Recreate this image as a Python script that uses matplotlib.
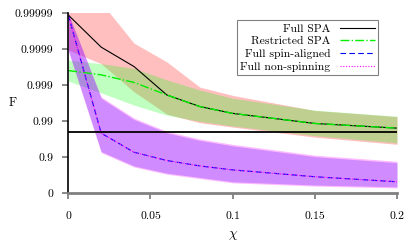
import numpy as np
import matplotlib
matplotlib.use("Agg")
import matplotlib.pyplot as plt

plt.rcParams['font.family'] = ['cmr10', 'DejaVu Serif']
plt.rcParams['mathtext.fontset'] = 'cm'
plt.rcParams['axes.unicode_minus'] = False

chi = [0.0, 0.02, 0.04, 0.06, 0.08, 0.1, 0.15, 0.2]

# Full SPA
full_spa = [0.9999888, 0.9999129, 0.999698, 0.998138, 0.99611, 0.99397, 0.98852, 0.98451]
full_spa_hi = [0.999995, 0.999995, 0.9999324, 0.999776, 0.998878, 0.998095, 0.99499, 0.99259]
full_spa_lo = [0.9998953, 0.999749, 0.998486, 0.99369, 0.98904, 0.98555, 0.97246, 0.95635]

# Restricted SPA
restr_spa = [0.999611, 0.999487, 0.999168, 0.998138, 0.99611, 0.99397, 0.98852, 0.98451]
restr_spa_hi = [0.9998005, 0.9997488, 0.999661, 0.999292, 0.998651, 0.997709, 0.995102, 0.992756]
restr_spa_lo = [0.999241, 0.998378, 0.996452, 0.99324, 0.99, 0.98651, 0.97488, 0.96019]

# Full spin-aligned
spin_al = [0.9999888, 0.97862, 0.92756, 0.8770, 0.8262, 0.7761, 0.6533, 0.5214]
spin_al_hi = [0.99999, 0.997709, 0.99109, 0.97911, 0.96612, 0.95214, 0.9045, 0.8587]
spin_al_lo = [0.9998953, 0.93082, 0.8262, 0.7246, 0.6369, 0.5214, 0.4112, 0.3393]

# Full non-spinning
non_spin = [0.9999888, 0.97862, 0.92756, 0.8770, 0.8262, 0.7761, 0.6533, 0.5214]
non_spin_hi = [0.99999, 0.997911, 0.99187, 0.98095, 0.9691, 0.95635, 0.9129, 0.8712]
non_spin_lo = [0.9998878, 0.9259, 0.8138, 0.7049, 0.611, 0.4871, 0.369, 0.2921]

threshold = 0.98

yticks = [0, 0.9, 0.99, 0.999, 0.9999, 0.99999]
ytick_labels = ['0', '0.9', '0.99', '0.999', '0.9999', '0.99999']
xticks = [0, 0.05, 0.1, 0.15, 0.2]
xtick_labels = ['0', '0.05', '0.1', '0.15', '0.2']


def fwd(F):
    F = np.asarray(F, dtype=float)
    return -np.log10(np.clip(1.0 - F, 1e-12, None))


def inv(v):
    v = np.asarray(v, dtype=float)
    return 1.0 - 10.0 ** (-v)


fig = plt.figure(figsize=(4.15, 2.49), dpi=100)
ax = fig.add_axes([0.1646, 0.2237, 0.7920, 0.7229])
ax.set_yscale('function', functions=(fwd, inv))

fs = 8.4
ax.fill_between(chi, full_spa_lo, full_spa_hi, color=(1, 0, 0), alpha=0.25, lw=0)
ax.fill_between(chi, restr_spa_lo, restr_spa_hi, color=(0, 1, 0), alpha=0.25, lw=0)
ax.fill_between(chi, spin_al_lo, spin_al_hi, color=(0, 0, 1), alpha=0.25, lw=0)
ax.fill_between(chi, non_spin_lo, non_spin_hi, color=(1, 0, 1), alpha=0.265, lw=0)

ax.plot(chi, full_spa, color='black', lw=0.8, ls='-', label='Full SPA')
ax.plot(chi, restr_spa, color='#00ee00', lw=1.0, ls='-.', label='Restricted SPA')
ax.plot(chi, spin_al, color='#0000ff', lw=0.8, ls=(0, (5, 3)), label='Full spin-aligned')
ax.plot(chi, non_spin, color='#ff00ff', lw=0.8, ls=(0, (1, 1.5)), label='Full non-spinning')

ax.axhline(threshold, color='black', lw=1.3)

ax.set_xlim(0, 0.2)
ax.set_ylim(0, 0.99999)
ax.set_yticks(yticks)
ax.set_yticklabels(ytick_labels, fontsize=fs)
ax.set_xticks(xticks)
ax.set_xticklabels(xtick_labels, fontsize=fs)
ax.minorticks_off()

for s in ['top', 'right']:
    ax.spines[s].set_visible(False)
ax.spines['left'].set_color('black')
ax.spines['left'].set_linewidth(1.2)
ax.spines['bottom'].set_color('0.5')
ax.spines['bottom'].set_linewidth(2.0)
ax.tick_params(axis='x', direction='out', length=4, width=1.3, color='0.5', pad=9)
ax.tick_params(axis='y', direction='out', length=4, width=1.3, color='0.5', pad=7)

ax.set_xlabel(r'$\chi$', fontsize=fs + 1.5, labelpad=6)
ax.set_ylabel('F', fontsize=fs + 0.6, rotation=0, ha='center', va='center')
ax.yaxis.set_label_coords(-0.17, 0.5)

leg = ax.legend(loc='upper right', fontsize=fs, markerfirst=False, frameon=True,
                fancybox=False, edgecolor='0.5', framealpha=1, handlelength=3.0,
                labelspacing=0.22, borderpad=0.3, handletextpad=0.8,
                bbox_to_anchor=(0.96, 0.995))
leg.get_frame().set_linewidth(0.8)

fig.savefig('out.png', dpi=100)
